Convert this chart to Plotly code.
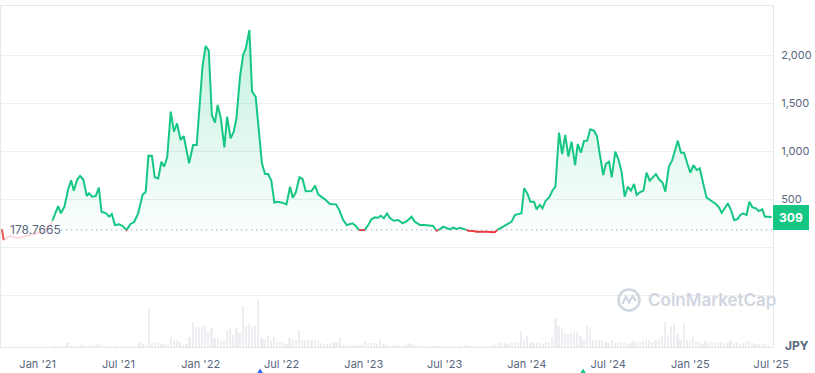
import numpy as np
import pandas as pd
import plotly.graph_objects as go

# ---------------- data ----------------
price_dates = [
    "2021-02-03", "2021-02-16", "2021-02-22", "2021-03-02", "2021-03-10", "2021-03-17", "2021-03-23", "2021-03-31",
    "2021-04-06", "2021-04-13", "2021-04-21", "2021-04-26", "2021-05-03", "2021-05-11", "2021-05-18", "2021-05-24",
    "2021-06-03", "2021-06-10", "2021-06-16", "2021-06-23", "2021-07-03", "2021-07-10", "2021-07-19", "2021-07-28",
    "2021-08-05", "2021-08-14", "2021-08-24", "2021-08-31", "2021-09-06", "2021-09-14", "2021-09-20", "2021-09-28",
    "2021-10-05", "2021-10-11", "2021-10-18", "2021-10-26", "2021-11-02", "2021-11-09", "2021-11-17", "2021-11-24",
    "2021-12-06", "2021-12-15", "2021-12-23", "2021-12-30", "2022-01-05", "2022-01-12", "2022-01-19", "2022-01-26",
    "2022-02-02", "2022-02-08", "2022-02-15", "2022-02-23", "2022-03-01", "2022-03-09", "2022-03-16", "2022-03-22",
    "2022-03-30", "2022-04-06", "2022-04-12", "2022-04-20", "2022-04-26", "2022-05-04", "2022-05-11", "2022-05-18",
    "2022-05-25", "2022-06-01", "2022-06-08", "2022-06-15", "2022-06-21", "2022-07-03", "2022-07-12", "2022-07-20",
    "2022-07-26", "2022-08-02", "2022-08-10", "2022-08-17", "2022-08-24", "2022-09-06", "2022-09-14", "2022-09-21",
    "2022-09-29", "2022-10-08", "2022-10-17", "2022-10-31", "2022-11-07", "2022-11-16", "2022-11-24", "2022-12-01",
    "2022-12-07", "2022-12-14", "2022-12-22", "2023-01-03", "2023-01-11", "2023-01-18", "2023-01-26", "2023-02-02",
    "2023-02-08", "2023-02-15", "2023-02-22", "2023-02-28", "2023-03-09", "2023-03-19", "2023-03-29", "2023-04-08",
    "2023-04-18", "2023-04-25", "2023-05-07", "2023-05-18", "2023-05-29", "2023-06-05", "2023-06-13", "2023-06-20",
    "2023-06-28", "2023-07-05", "2023-07-13", "2023-07-20", "2023-07-28", "2023-08-04", "2023-08-13", "2023-08-23",
    "2023-09-03", "2023-09-10", "2023-10-03", "2023-10-21", "2023-10-29", "2023-11-09", "2023-11-20", "2023-11-28",
    "2023-12-05", "2023-12-15", "2023-12-20", "2023-12-26", "2024-01-02", "2024-01-09", "2024-01-17", "2024-01-23",
    "2024-01-30", "2024-02-05", "2024-02-12", "2024-02-20", "2024-02-28", "2024-03-05", "2024-03-13", "2024-03-20",
    "2024-03-27", "2024-04-03", "2024-04-10", "2024-04-18", "2024-04-24", "2024-05-01", "2024-05-08", "2024-05-15",
    "2024-05-22", "2024-05-30", "2024-06-06", "2024-06-12", "2024-06-20", "2024-06-26", "2024-07-03", "2024-07-09",
    "2024-07-17", "2024-07-24", "2024-07-31", "2024-08-07", "2024-08-14", "2024-08-21", "2024-08-28", "2024-09-03",
    "2024-09-10", "2024-09-18", "2024-09-25", "2024-10-02", "2024-10-10", "2024-10-16", "2024-10-23", "2024-10-31",
    "2024-11-06", "2024-11-14", "2024-11-21", "2024-11-27", "2024-12-04", "2024-12-11", "2024-12-18", "2024-12-25",
    "2025-01-01", "2025-01-08", "2025-01-15", "2025-01-22", "2025-01-30", "2025-02-06", "2025-02-14", "2025-02-21",
    "2025-02-27", "2025-03-06", "2025-03-12", "2025-03-19", "2025-03-26", "2025-04-02", "2025-04-09", "2025-04-16",
    "2025-04-23", "2025-04-29", "2025-05-07", "2025-05-13", "2025-05-20", "2025-05-28", "2025-06-03", "2025-06-11",
    "2025-06-17", "2025-06-26", "2025-07-02",
]
price_values = [
    274, 427, 351, 420, 594, 695, 587, 705,
    740, 705, 531, 559, 524, 531, 618, 368,
    351, 316, 344, 229, 236, 219, 176, 240,
    260, 351, 545, 576, 951, 948, 726, 715,
    889, 837, 934, 1410, 1201, 1288, 1115, 1156,
    872, 1063, 1063, 1560, 1878, 2094, 2045, 1375,
    1295, 1479, 1340, 1038, 1357, 1132, 1201, 1340,
    1774, 2000, 2069, 2260, 1618, 1566, 1219, 872,
    760, 760, 691, 462, 472, 462, 444, 628,
    514, 570, 726, 708, 580, 583, 639, 548,
    520, 490, 448, 444, 385, 281, 229, 240,
    247, 219, 177, 177, 229, 288, 309, 305,
    326, 299, 351, 305, 274, 281, 247, 271,
    316, 264, 229, 229, 219, 219, 170, 184,
    212, 201, 184, 201, 187, 201, 191, 170,
    167, 159, 159, 153, 184, 212, 244, 264,
    333, 340, 351, 611, 559, 472, 472, 392,
    438, 403, 482, 517, 594, 628, 1191, 969,
    1167, 941, 1097, 854, 1073, 983, 1104, 1108,
    1226, 1212, 1156, 976, 750, 865, 889, 726,
    993, 913, 785, 524, 628, 587, 656, 542,
    570, 587, 774, 691, 726, 760, 705, 670,
    576, 837, 899, 993, 1108, 983, 983, 872,
    774, 854, 802, 820, 663, 517, 490, 472,
    448, 413, 357, 403, 455, 385, 281, 288,
    333, 351, 333, 472, 413, 403, 375, 392,
    316, 316, 309,
]

# faded lead-in segment drawn before the first full-colour point
lead_dates = ["2020-10-13", "2020-10-17", "2020-10-31", "2020-11-18", "2020-12-06", "2020-12-24", "2021-01-10", "2021-01-28", "2021-02-03"]
lead_values = [187, 73, 115, 94, 115, 135, 156, 219, 274]

baseline_price = 178.7665
last_price = 309

volume_start = "2021-02-02"
volume_values = [
    2, 2, 1, 1, 2, 12, 4, 2, 2, 6,
    4, 2, 2, 3, 9, 9, 5, 2, 2, 1,
    1, 1, 1, 1, 1, 1, 2, 3, 15, 9,
    4, 114, 15, 15, 15, 10, 7, 8, 30, 17,
    20, 14, 7, 9, 30, 75, 60, 60, 64, 67,
    45, 57, 27, 24, 19, 17, 50, 57, 37, 57,
    42, 124, 64, 72, 62, 64, 144, 27, 22, 34,
    17, 30, 15, 16, 12, 10, 27, 22, 22, 52,
    20, 22, 24, 22, 20, 17, 12, 10, 8, 12,
    14, 14, 27, 5, 7, 7, 5, 4, 4, 4,
    17, 12, 12, 12, 8, 24, 10, 4, 3, 4,
    5, 5, 3, 6, 12, 9, 5, 5, 3, 3,
    2, 2, 2, 2, 2, 2, 2, 2, 2, 2,
    2, 3, 4, 4, 2, 2, 2, 2, 2, 2,
    3, 4, 6, 14, 12, 12, 10, 12, 15, 14,
    47, 17, 32, 15, 12, 12, 12, 10, 14, 14,
    27, 87, 64, 60, 42, 40, 42, 45, 45, 32,
    22, 64, 54, 20, 17, 20, 17, 14, 12, 22,
    12, 14, 14, 12, 10, 12, 17, 14, 15, 17,
    20, 20, 14, 22, 24, 37, 75, 37, 62, 72,
    40, 20, 72, 20, 22, 30, 17, 14, 10, 17,
    12, 14, 15, 14, 15, 12, 12, 22, 12, 14,
    10, 12, 14, 17, 12, 10, 10, 10, 8, 7,
]

x_tick_dates = ["2021-01-01", "2021-07-01", "2022-01-01", "2022-07-01", "2023-01-01",
                "2023-07-01", "2024-01-01", "2024-07-01", "2025-01-01", "2025-07-01"]
x_tick_labels = ["Jan '21", "Jul '21", "Jan '22", "Jul '22", "Jan '23",
                 "Jul '23", "Jan '24", "Jul '24", "Jan '25", "Jul '25"]
y_tick_values = [-500, 0, 500, 1000, 1500, 2000]
y_tick_labels = ["", "", "500", "1,000", "1,500", "2,000"]

event_dates = ["2022-05-14", "2024-05-06"]
event_colors = ["#3861fb", "#16c784"]

# ---------------- styling ----------------
GREEN = "#16c784"
RED = "#ea3943"
TEXT = "#58667e"
GRID = "#eceef2"
FONT = "Inter"
X_RANGE = ["2020-10-11", "2025-07-05"]

# ---------------- split line by baseline ----------------
t = pd.to_datetime(price_dates).astype("int64").to_numpy().astype(float)
v = np.array(price_values, dtype=float)
segs = []
for i in range(len(v) - 1):
    pts = [(t[i], v[i])]
    if (v[i] - baseline_price) * (v[i + 1] - baseline_price) < 0:
        f = (baseline_price - v[i]) / (v[i + 1] - v[i])
        pts.append((t[i] + f * (t[i + 1] - t[i]), baseline_price))
    pts.append((t[i + 1], v[i + 1]))
    for a, b in zip(pts[:-1], pts[1:]):
        col = "red" if (a[1] + b[1]) / 2 < baseline_price else "green"
        if segs and segs[-1][0] == col:
            segs[-1][1].append(b)
        else:
            segs.append((col, [a, b]))


def build(color):
    xs, ys = [], []
    for c, p in segs:
        if c != color:
            continue
        xs += [pd.Timestamp(int(q[0])) for q in p] + [None]
        ys += [q[1] for q in p] + [None]
    return xs, ys


gx, gy = build("green")
rx, ry = build("red")

fig = go.Figure()

# volume bars
vol_dates = pd.date_range(volume_start, periods=len(volume_values), freq="7D")
fig.add_trace(go.Bar(x=vol_dates, y=volume_values, yaxis="y2",
                     marker=dict(color="#eceef2", line=dict(width=0)),
                     width=5 * 86400000, hoverinfo="skip"))

# baseline for fill
fig.add_trace(go.Scatter(x=[price_dates[0], price_dates[-1]], y=[baseline_price, baseline_price],
                         mode="lines", line=dict(width=0), hoverinfo="skip", showlegend=False))
fig.add_trace(go.Scatter(x=price_dates, y=price_values, mode="lines", line=dict(width=0),
                         fill="tonexty",
                         fillgradient=dict(type="vertical", start=baseline_price, stop=max(price_values),
                                           colorscale=[[0, "rgba(22,199,132,0.02)"],
                                                       [1, "rgba(22,199,132,0.26)"]]),
                         hoverinfo="skip", showlegend=False))

# faded lead-in
fig.add_trace(go.Scatter(x=lead_dates, y=lead_values, mode="lines",
                         line=dict(color="rgba(234,57,67,0.18)", width=2), hoverinfo="skip"))
fig.add_trace(go.Scatter(x=lead_dates[:2], y=lead_values[:2], mode="lines",
                         line=dict(color="rgba(234,57,67,0.8)", width=2), hoverinfo="skip"))

fig.add_trace(go.Scatter(x=gx, y=gy, mode="lines", line=dict(color=GREEN, width=2), connectgaps=False))
fig.add_trace(go.Scatter(x=rx, y=ry, mode="lines", line=dict(color=RED, width=2), connectgaps=False))

PL, PR, PT, PB = 1, 773, 6, 347  # plot box in px
W, H = PR - PL, PB - PT
fig.update_layout(
    width=815, height=373,
    margin=dict(l=PL, r=815 - PR, t=PT, b=373 - PB, pad=0),
    paper_bgcolor="white", plot_bgcolor="white",
    showlegend=False,
    font=dict(family=FONT, color=TEXT, size=11),
    xaxis=dict(range=X_RANGE, tickvals=x_tick_dates, ticktext=x_tick_labels,
               showgrid=False, zeroline=False, showline=True, linecolor="#e6e8ec", mirror=True,
               ticks="", ticklabelstandoff=7, tickfont=dict(size=11, color=TEXT)),
    yaxis=dict(range=[-1041.7, 2510.4], side="right", tickvals=y_tick_values, ticktext=y_tick_labels,
               showgrid=True, gridcolor=GRID, gridwidth=1, zeroline=False,
               showline=True, linecolor="#e6e8ec", mirror=True,
               ticks="", ticklabelstandoff=5, tickfont=dict(size=11, color=TEXT), automargin=False),
    yaxis2=dict(range=[0, 144 * H / 48], overlaying="y", visible=False),
    bargap=0,
)


def px(xp):
    return (xp - PL) / W


def py(yp):
    return (PB - yp) / H


# event markers under the axis (position from the date scale)
x0_ns, x1_ns = [pd.Timestamp(s).value for s in X_RANGE]
for d, c in zip(event_dates, event_colors):
    xc = PL + W * (pd.Timestamp(d).value - x0_ns) / (x1_ns - x0_ns)
    fig.add_shape(type="path", xref="paper", yref="paper", layer="above",
                  path="M %f,%f L %f,%f L %f,%f Z" % (px(xc), py(368.5), px(xc - 4.5), py(376),
                                                        px(xc + 4.5), py(376)),
                  fillcolor=c, line=dict(width=0))

# dotted baseline
fig.add_shape(type="line", xref="paper", yref="y", x0=0.078, x1=1, y0=baseline_price, y1=baseline_price,
              line=dict(color="#9aa2b1", width=1.3, dash="1px,4px"))
fig.add_annotation(xref="paper", yref="y", x=0.009, y=baseline_price, xanchor="left", yanchor="middle",
                   text="178.7665", showarrow=False, font=dict(size=12, color=TEXT, family=FONT))

# current price badge
fig.add_annotation(xref="paper", yref="y", x=1.0, y=last_price, xanchor="left", yanchor="middle",
                   text="<b>%d</b>" % last_price, showarrow=False, bgcolor=GREEN, bordercolor=GREEN,
                   borderpad=4, width=26, font=dict(size=12, color="white", family=FONT))

# currency label
fig.add_annotation(xref="paper", yref="paper", x=px(797), y=py(345), xanchor="center",
                   yanchor="middle", text="<b>JPY</b>", showarrow=False,
                   font=dict(size=12, color=TEXT, family=FONT))

# watermark
wm = "#d0d6e0"
fig.add_shape(type="circle", xref="paper", yref="paper", x0=px(618.5), x1=px(639.5), y0=py(310.5), y1=py(289.5),
              line=dict(color=wm, width=2.5))
fig.add_shape(type="path", xref="paper", yref="paper",
              path="M %f,%f L %f,%f L %f,%f L %f,%f L %f,%f" % (
                  px(622.5), py(304), px(626), py(296.5), px(629), py(302.5), px(632.5), py(296), px(636), py(301)),
              line=dict(color=wm, width=2.2))
fig.add_annotation(xref="paper", yref="paper", x=px(646), y=py(299.5), xanchor="left", yanchor="middle",
                   text="CoinMarketCap", showarrow=False,
                   font=dict(size=17, color=wm, family=FONT, weight=600))

fig.write_html("out.html", config={"displayModeBar": False},
               post_script="document.body.style.margin='0';document.body.style.padding='0';")
